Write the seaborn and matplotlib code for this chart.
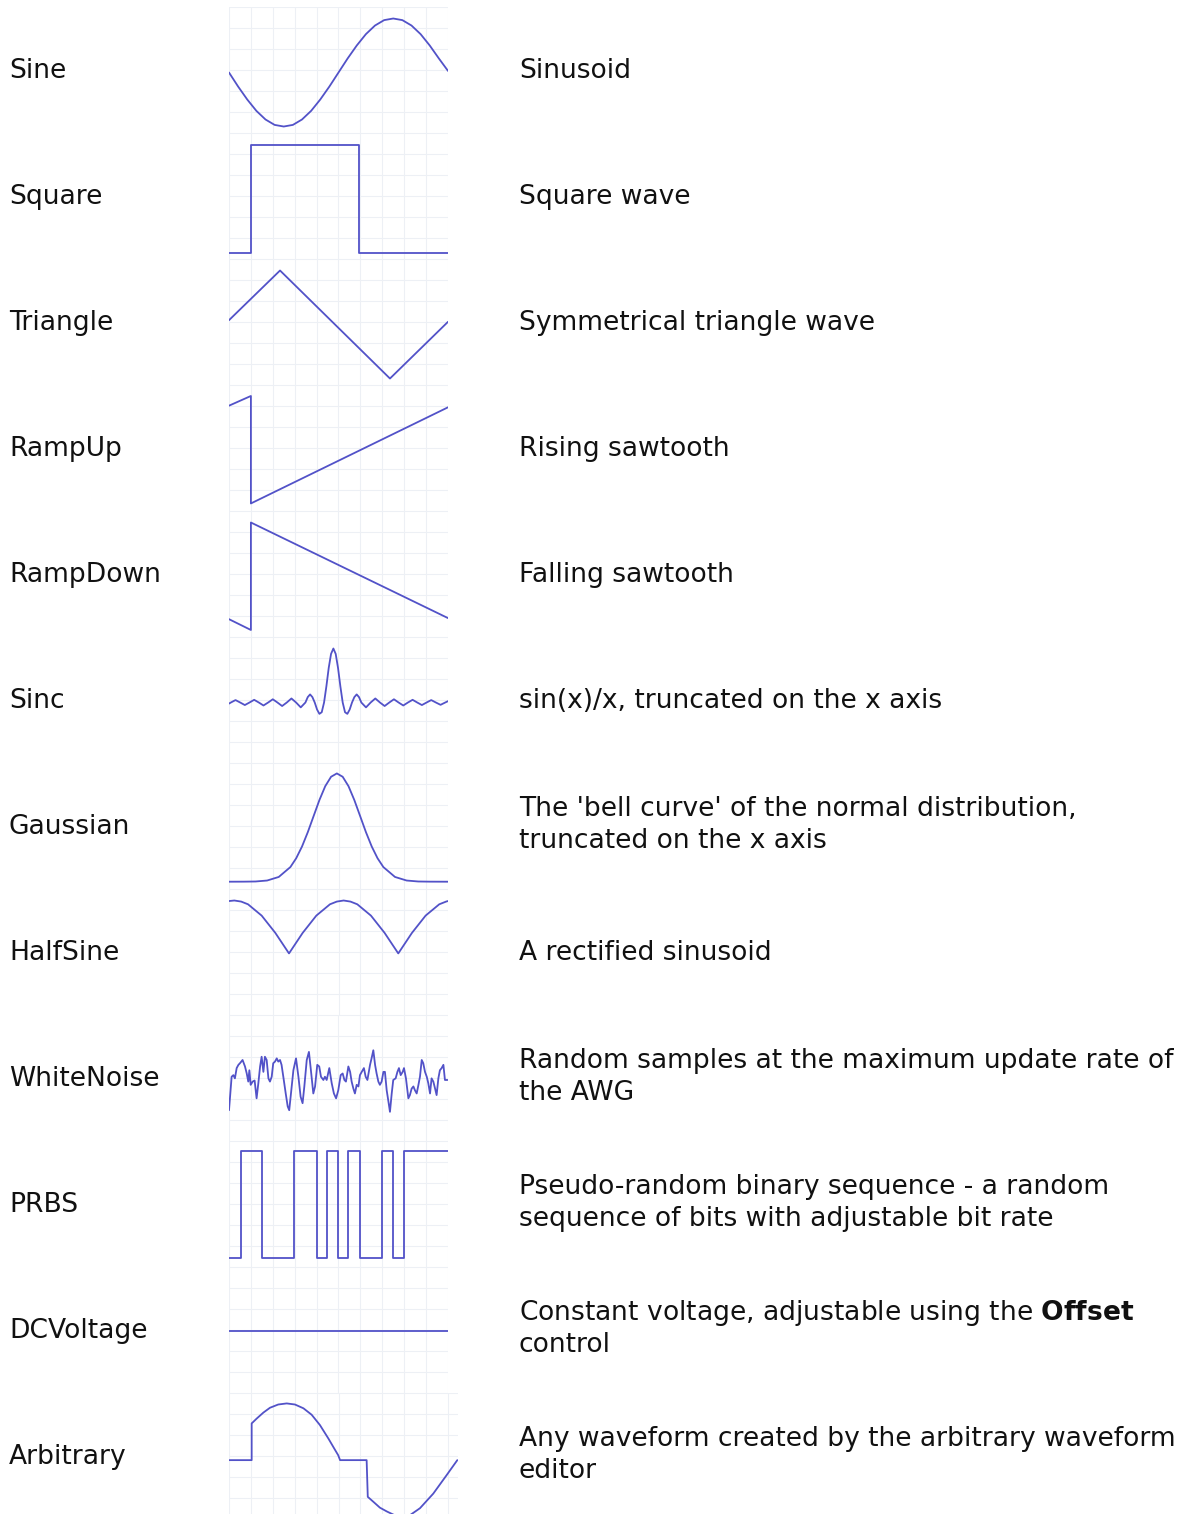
import numpy as np
import pandas as pd
import matplotlib
matplotlib.use("Agg")
import matplotlib.pyplot as plt
import seaborn as sns

sns.set_style("white")
plt.rcParams["font.family"] = ["DejaVu Sans"]
plt.rcParams["mathtext.fontset"] = "dejavusans"

LINE = "#5252c8"
GRID = "#edf0f5"
FONT = 19.1

# ---- waveform data (v: -1..1 full scale) ----
sine_t = [i / 24 for i in range(25)]
sine_v = [0.00, -0.26, -0.50, -0.71, -0.87, -0.97, -1.00, -0.97, -0.87, -0.71, -0.50, -0.26,
          0.00, 0.26, 0.50, 0.71, 0.87, 0.97, 1.00, 0.97, 0.87, 0.71, 0.50, 0.26, 0.03]

square_edges = [0.0, 0.100, 0.594, 1.0]
square_levels = [-1.00, 0.99, -1.00]

triangle_t = [0.0, 0.233, 0.735, 1.0]
triangle_v = [0.08, 1.00, -1.00, 0.05]

rampup_t = [0.0, 0.100, 0.100, 1.0]
rampup_v = [0.83, 1.01, -0.98, 0.80]

rampdown_t = [0.0, 0.100, 0.100, 1.0]
rampdown_v = [-0.79, -0.99, 1.00, -0.77]

# x in units of pi
sinc_x = [-11.2, -11.0, -10.5, -10.0, -9.5, -9.0, -8.5, -8.0, -7.5, -7.0, -6.5, -6.0, -5.5, -5.0,
          -4.5, -4.0, -3.5, -3.0, -2.75, -2.5, -2.25, -2.0, -1.75, -1.5, -1.25, -1.0, -0.75, -0.5,
          -0.25, 0.0, 0.25, 0.5, 0.75, 1.0, 1.25, 1.5, 1.75, 2.0, 2.25, 2.5, 2.75, 3.0, 3.5, 4.0,
          4.5, 5.0, 5.5, 6.0, 6.5, 7.0, 7.5, 8.0, 8.5, 9.0, 9.5, 10.0, 10.5, 11.0, 11.5, 12.0, 12.3]
sinc_v = [-0.02, 0.0, 0.045, 0.0, -0.047, 0.0, 0.05, 0.0, -0.055, 0.0, 0.06, 0.0, -0.065, 0.0,
          0.075, 0.0, -0.09, 0.0, 0.10, 0.15, 0.10, 0.0, -0.13, -0.21, -0.18, 0.0, 0.30, 0.64,
          0.90, 1.00, 0.90, 0.64, 0.30, 0.0, -0.18, -0.21, -0.13, 0.0, 0.10, 0.15, 0.10, 0.0, -0.09, 0.0,
          0.075, 0.0, -0.065, 0.0, 0.06, 0.0, -0.055, 0.0, 0.05, 0.0, -0.047, 0.0, 0.045, 0.0, -0.043, 0.0, 0.025]

# x in units of sigma
gauss_x = [-4.64, -4.0, -3.5, -3.0, -2.5, -2.0, -1.75, -1.5, -1.25, -1.0, -0.75, -0.5, -0.25, 0.0,
           0.25, 0.5, 0.75, 1.0, 1.25, 1.5, 1.75, 2.0, 2.5, 3.0, 3.5, 4.0, 4.78]
gauss_v = [-0.985, -0.984, -0.981, -0.963, -0.897, -0.714, -0.551, -0.334, -0.067, 0.231, 0.528, 0.784,
           0.958, 1.02, 0.958, 0.784, 0.528, 0.231, -0.067, -0.334, -0.551, -0.714, -0.897, -0.963,
           -0.981, -0.984, -0.985]

# x in units of one half-period (cusp to cusp)
halfsine_x = [-0.549, -0.5, -0.4375, -0.375, -0.25, -0.125, 0.0, 0.125, 0.25, 0.375, 0.4375, 0.5,
              0.5625, 0.625, 0.75, 0.875, 1.0, 1.125, 1.25, 1.375, 1.4375, 1.455]
halfsine_v = [0.99, 1.00, 0.98, 0.93, 0.72, 0.40, 0.02, 0.40, 0.72, 0.93, 0.98, 1.00,
              0.98, 0.93, 0.72, 0.40, 0.02, 0.40, 0.72, 0.93, 0.98, 0.99]

noise_t = [0.000, 0.012, 0.020, 0.027, 0.035, 0.043, 0.050, 0.062, 0.073, 0.081, 0.088, 0.093, 0.099,
           0.108, 0.117, 0.126, 0.134, 0.142, 0.149, 0.157, 0.164, 0.172, 0.180, 0.187, 0.195, 0.202,
           0.210, 0.218, 0.225, 0.233, 0.240, 0.248, 0.259, 0.268, 0.275, 0.283, 0.294, 0.306, 0.317,
           0.327, 0.336, 0.344, 0.355, 0.365, 0.374, 0.385, 0.393, 0.403, 0.412, 0.420, 0.431, 0.438,
           0.446, 0.458, 0.469, 0.479, 0.489, 0.499, 0.510, 0.519, 0.527, 0.534, 0.545, 0.553, 0.560,
           0.568, 0.575, 0.583, 0.591, 0.598, 0.606, 0.616, 0.624, 0.632, 0.644, 0.651, 0.659, 0.667,
           0.674, 0.682, 0.689, 0.697, 0.705, 0.712, 0.720, 0.728, 0.735, 0.743, 0.750, 0.761, 0.769,
           0.776, 0.784, 0.793, 0.799, 0.808, 0.819, 0.826, 0.834, 0.842, 0.849, 0.857, 0.865, 0.872,
           0.880, 0.887, 0.895, 0.903, 0.910, 0.918, 0.925, 0.933, 0.941, 0.948, 0.956, 0.963, 0.971,
           0.979, 0.986, 0.998]
noise_v = [-0.55, 0.07, 0.10, 0.04, 0.23, 0.29, 0.32, 0.38, 0.26, 0.13, -0.02, 0.19, -0.08,
           -0.02, 0.00, -0.33, -0.05, 0.26, 0.44, 0.16, 0.44, 0.38, 0.04, -0.02, 0.07, 0.32,
           0.35, 0.41, 0.35, 0.38, 0.29, 0.07, -0.24, -0.48, -0.55, -0.24, 0.19, 0.41, 0.07,
           -0.30, -0.42, -0.11, 0.38, 0.53, 0.19, -0.24, -0.11, 0.29, 0.26, 0.07, 0.01, 0.07,
           0.01, 0.23, -0.05, -0.24, -0.33, -0.18, 0.10, 0.13, 0.01, -0.02, 0.26, 0.16, -0.02,
           -0.15, -0.24, -0.08, -0.11, 0.10, 0.16, 0.23, 0.07, 0.01, 0.29, 0.41, 0.56, 0.29,
           0.13, -0.02, -0.08, -0.02, 0.16, 0.16, -0.18, -0.39, -0.58, -0.24, 0.01, 0.04, 0.16,
           0.23, 0.10, 0.16, 0.23, 0.04, -0.33, -0.27, -0.15, -0.11, -0.18, -0.24, -0.08, 0.07,
           0.38, 0.32, 0.16, 0.07, -0.05, -0.24, 0.04, -0.02, -0.15, -0.27, 0.04, 0.19, 0.23,
           0.29, 0.01, 0.01]

prbs_edges = [0.0, 0.053, 0.149, 0.297, 0.400, 0.446, 0.499, 0.545, 0.598, 0.700, 0.750, 0.801, 1.0]
prbs_levels = [-0.96, 1.03, -0.96, 1.03, -0.96, 1.03, -0.96, 1.03, -0.96, 1.03, -0.96, 1.03]

dc_t = [0.0, 1.0]
dc_v = [0.03, 0.03]

arb_t = [0.0, 0.099, 0.099, 0.121, 0.150, 0.179, 0.215, 0.252, 0.288, 0.325, 0.361, 0.397, 0.434,
         0.463, 0.477, 0.485, 0.601, 0.606, 0.630, 0.659, 0.689, 0.738, 0.790, 0.834, 0.892, 0.950, 0.997]
arb_v = [-0.03, -0.03, 0.65, 0.74, 0.85, 0.94, 1.00, 1.02, 1.00, 0.93, 0.81, 0.62, 0.37,
         0.16, 0.06, -0.03, -0.03, -0.71, -0.80, -0.91, -0.98, -1.08, -1.05, -0.92, -0.65, -0.31, -0.03]

names = ["Sine", "Square", "Triangle", "RampUp", "RampDown", "Sinc", "Gaussian", "HalfSine",
         "WhiteNoise", "PRBS", "DCVoltage", "Arbitrary"]
descriptions = [
    ["Sinusoid"],
    ["Square wave"],
    ["Symmetrical triangle wave"],
    ["Rising sawtooth"],
    ["Falling sawtooth"],
    ["sin(x)/x, truncated on the x axis"],
    ["The 'bell curve' of the normal distribution,", "truncated on the x axis"],
    ["A rectified sinusoid"],
    ["Random samples at the maximum update rate of", "the AWG"],
    ["Pseudo-random binary sequence - a random", "sequence of bits with adjustable bit rate"],
    ["Constant voltage, adjustable using the $\\mathbf{Offset}$", "control"],
    ["Any waveform created by the arbitrary waveform", "editor"],
]


def steps(edges, levels):
    t, v = [], []
    for i, lev in enumerate(levels):
        t += [edges[i], edges[i + 1]]
        v += [lev, lev]
    return t, v


sq_t, sq_v = steps(square_edges, square_levels)
pr_t, pr_v = steps(prbs_edges, prbs_levels)

waves = [
    (sine_t, sine_v, (0, 1)),
    (sq_t, sq_v, (0, 1)),
    (triangle_t, triangle_v, (0, 1)),
    (rampup_t, rampup_v, (0, 1)),
    (rampdown_t, rampdown_v, (0, 1)),
    (sinc_x, sinc_v, (-11.2, 12.3)),
    (gauss_x, gauss_v, (-4.64, 4.78)),
    (halfsine_x, halfsine_v, (-0.549, 1.455)),
    (noise_t, noise_v, (0, 1)),
    (pr_t, pr_v, (0, 1)),
    (dc_t, dc_v, (0, 1)),
    (arb_t, arb_v, (0, 1)),
]

W, H = 1195, 1514
ROW_H = 126
YLIM = (-1.12, 1.213)

fig = plt.figure(figsize=(W / 100, H / 100), dpi=100)

for i, (name, desc, (xs, ys, xlim)) in enumerate(zip(names, descriptions, waves)):
    top = 7 + ROW_H * i
    width = 229 if name == "Arbitrary" else 219
    ax = fig.add_axes([229 / W, 1 - (top + ROW_H) / H, width / W, ROW_H / H])
    df = pd.DataFrame({"t": xs, "v": ys})
    sns.lineplot(data=df, x="t", y="v", ax=ax, estimator=None, sort=False,
                 color=LINE, linewidth=1.3, legend=False)
    ax.set_xlim(*xlim)
    ax.set_ylim(*YLIM)
    step = (xlim[1] - xlim[0]) * 21.9 / width
    ax.set_xticks(np.arange(xlim[0], xlim[1] + 1e-9, step))
    ax.set_yticks(np.linspace(YLIM[0], YLIM[1], 7))
    ax.tick_params(length=0, labelbottom=False, labelleft=False)
    ax.grid(True, color=GRID, linewidth=0.8)
    ax.set_axisbelow(True)
    ax.set_xlabel("")
    ax.set_ylabel("")
    for sp in ax.spines.values():
        sp.set_visible(False)

    yc = 70 + ROW_H * i
    fig.text(9 / W, 1 - (yc + 8) / H, name, fontsize=FONT, va="baseline", color="#111111")
    if len(desc) == 1:
        fig.text(519 / W, 1 - (yc + 8) / H, desc[0], fontsize=FONT, va="baseline", color="#111111")
    else:
        fig.text(519 / W, 1 - (yc - 10) / H, desc[0], fontsize=FONT, va="baseline", color="#111111")
        fig.text(519 / W, 1 - (yc + 22) / H, desc[1], fontsize=FONT, va="baseline", color="#111111")

fig.savefig("out.png", dpi=100)
